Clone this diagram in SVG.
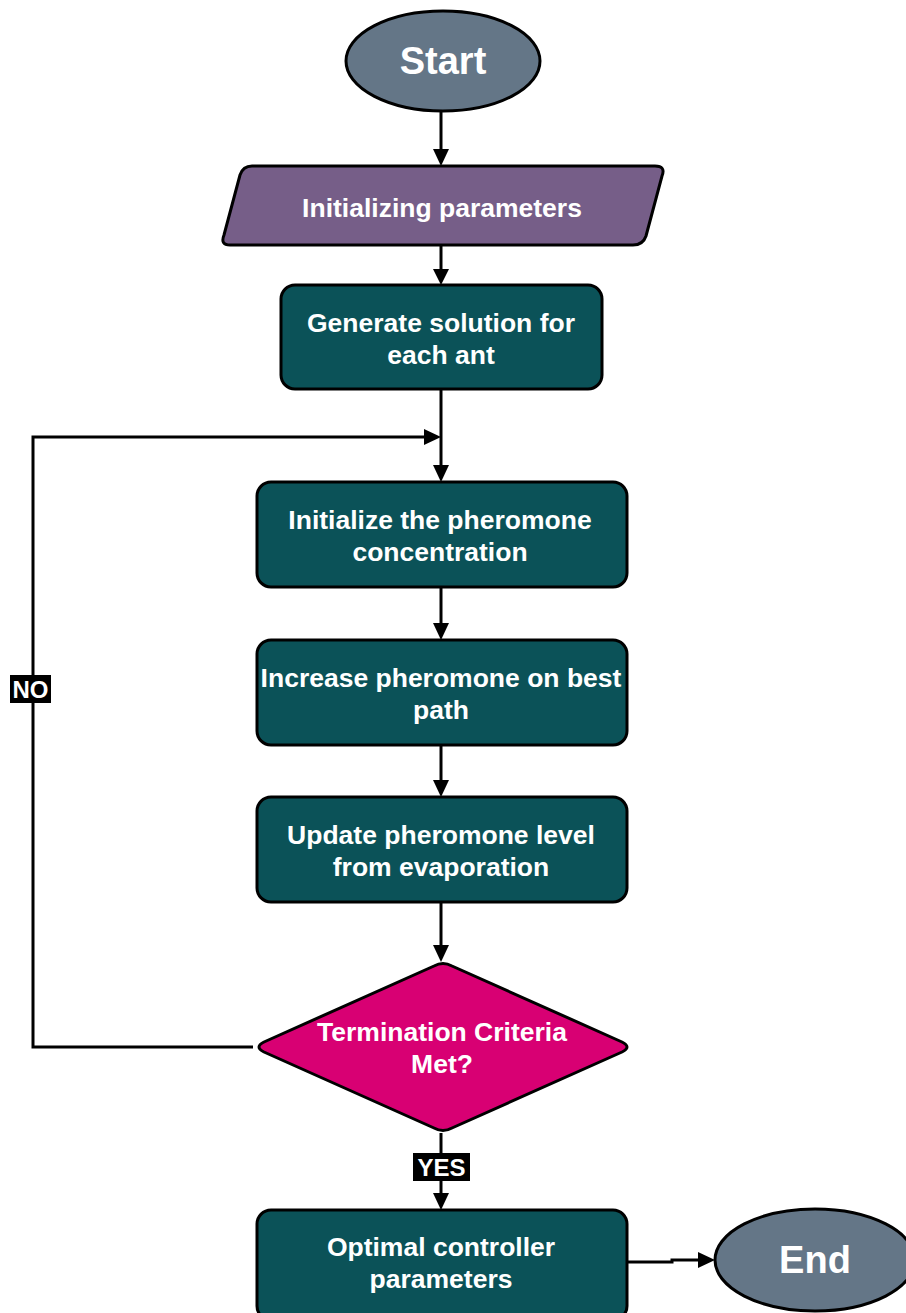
<svg xmlns="http://www.w3.org/2000/svg" width="906" height="1313" viewBox="0 0 906 1313">
<defs>
<style>
.lbl{font-family:"Liberation Sans",Arial,sans-serif;font-weight:bold;fill:#fff;text-anchor:middle}
.t{font-size:26.5px}
.big{font-size:38px}
.box{fill:#0B5258;stroke:#000;stroke-width:3}
.conn{fill:none;stroke:#000;stroke-width:3}
.tag{fill:#000}
.tagt{font-family:"Liberation Sans",Arial,sans-serif;font-weight:bold;fill:#fff;font-size:24px;text-anchor:middle}
</style>
</defs>
<rect width="906" height="1313" fill="#fff"/>
<g id="connectors">
<path class="conn" d="M441,112 V150"/>
<path d="M433,149 L441,166 L449,149 z"/>
<path class="conn" d="M441,245 V270"/>
<path d="M433,269 L441,285 L449,269 z"/>
<path class="conn" d="M441,389 V466"/>
<path d="M433,465 L441,482 L449,465 z"/>
<path class="conn" d="M441,587 V624"/>
<path d="M433,623 L441,640 L449,623 z"/>
<path class="conn" d="M441,745 V781"/>
<path d="M433,780 L441,797 L449,780 z"/>
<path class="conn" d="M441,902 V946"/>
<path d="M433,945 L441,962 L449,945 z"/>
<path class="conn" d="M441,1133 V1194"/>
<path d="M433,1193 L441,1210 L449,1193 z"/>
<path class="conn" d="M253,1047 H33 V437 H425"/>
<path d="M424,429 L441,437 L424,445 z"/>
<path class="conn" d="M627,1262 H672 V1260 H699"/>
<path d="M698,1252 L715,1260 L698,1268 z"/>
<g id="label-no"><rect class="tag" x="10" y="675" width="41" height="28"/><text class="tagt" x="30.5" y="698">NO</text></g>
<g id="label-yes"><rect class="tag" x="413" y="1153" width="57" height="28"/><text class="tagt" x="441.5" y="1176">YES</text></g>
</g>
<g id="start">
<ellipse cx="443" cy="61" rx="97" ry="50" fill="#647687" stroke="#000" stroke-width="3"/>
<text class="lbl big" x="443" y="74">Start</text>
</g>
<g id="init-params">
<path d="M252,166 H655 Q666,166 662,176 L646,236 Q643,245 633,245 H230 Q220,245 224,235 L240,175 Q243,166 252,166 z" fill="#765E88" stroke="#000" stroke-width="3"/>
<text class="lbl t" x="442" y="217">Initializing parameters</text>
</g>
<g id="generate">
<rect class="box" x="281" y="285" width="321" height="104" rx="14"/>
<text class="lbl t" x="441" y="332">Generate solution for</text>
<text class="lbl t" x="441" y="364">each ant</text>
</g>
<g id="init-pheromone">
<rect class="box" x="257" y="482" width="370" height="105" rx="14"/>
<text class="lbl t" x="440" y="529">Initialize the pheromone</text>
<text class="lbl t" x="440" y="561">concentration</text>
</g>
<g id="increase">
<rect class="box" x="257" y="640" width="370" height="105" rx="14"/>
<text class="lbl t" x="441" y="687">Increase pheromone on best</text>
<text class="lbl t" x="441" y="719">path</text>
</g>
<g id="update">
<rect class="box" x="257" y="797" width="370" height="105" rx="14"/>
<text class="lbl t" x="441" y="844">Update pheromone level</text>
<text class="lbl t" x="441" y="876">from evaporation</text>
</g>
<g id="decision">
<path d="M434,966 Q443,961 452,966 L622,1042 Q632,1047 622,1052 L452,1128 Q443,1133 434,1128 L264,1052 Q254,1047 264,1042 z" fill="#D80073" stroke="#000" stroke-width="3"/>
<text class="lbl t" x="442" y="1041">Termination Criteria</text>
<text class="lbl t" x="442" y="1073">Met?</text>
</g>
<g id="optimal">
<rect class="box" x="257" y="1210" width="370" height="110" rx="14"/>
<text class="lbl t" x="441" y="1256">Optimal controller</text>
<text class="lbl t" x="441" y="1288">parameters</text>
</g>
<g id="end">
<ellipse cx="815" cy="1260" rx="100" ry="51" fill="#647687" stroke="#000" stroke-width="3"/>
<text class="lbl big" x="815" y="1273">End</text>
</g>
</svg>
